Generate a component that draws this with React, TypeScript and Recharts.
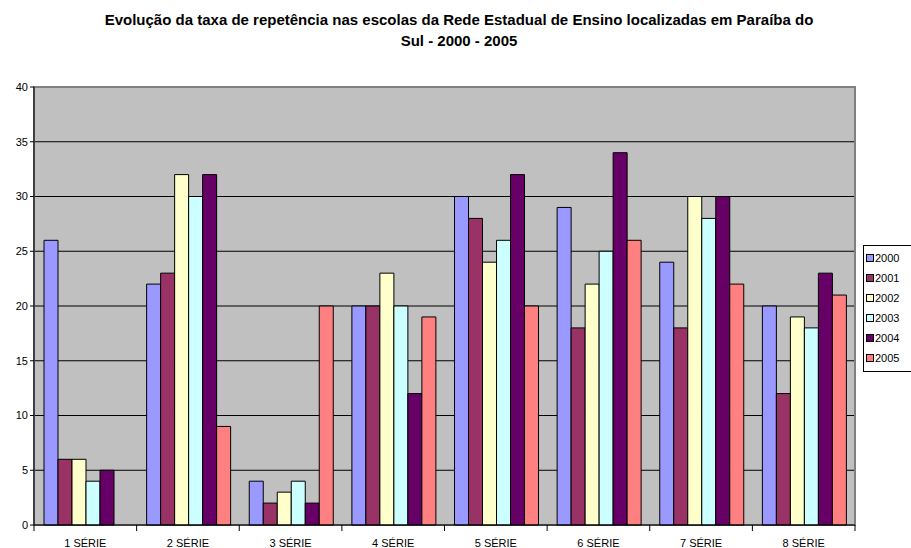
import {
  Bar,
  BarChart,
  CartesianGrid,
  ReferenceArea,
  XAxis,
  YAxis,
} from "recharts";

const series = ["1 SÉRIE", "2 SÉRIE", "3 SÉRIE", "4 SÉRIE", "5 SÉRIE", "6 SÉRIE", "7 SÉRIE", "8 SÉRIE"];
const years = ["2000", "2001", "2002", "2003", "2004", "2005"];
const colors = ["#9999FF", "#993366", "#FFFFCC", "#CCFFFF", "#660066", "#FF8080"];

const y2000 = [26, 22, 4, 20, 30, 29, 24, 20];
const y2001 = [6, 23, 2, 20, 28, 18, 18, 12];
const y2002 = [6, 32, 3, 23, 24, 22, 30, 19];
const y2003 = [4, 30, 4, 20, 26, 25, 28, 18];
const y2004 = [5, 32, 2, 12, 32, 34, 30, 23];
const y2005 = [0, 9, 20, 19, 20, 26, 22, 21];

const yTicks = [0, 5, 10, 15, 20, 25, 30, 35, 40];
const gridValues = [5, 10, 15, 20, 25, 30, 35];

const font = "'Liberation Sans', Arial, sans-serif";

const data = series.map((name, i) => ({
  name,
  "2000": y2000[i],
  "2001": y2001[i],
  "2002": y2002[i],
  "2003": y2003[i],
  "2004": y2004[i],
  "2005": y2005[i],
}));

function SerieTick(props: any) {
  const { x, y, payload, index, visibleTicksCount } = props;
  const off = payload.offset ?? 0;
  const last = index === visibleTicksCount - 1;
  return (
    <g>
      <line x1={x - off} x2={x - off} y1={y - 6} y2={y} stroke="#000" />
      {last && <line x1={x + off} x2={x + off} y1={y - 6} y2={y} stroke="#000" />}
      <text x={x} y={y + 16} textAnchor="middle" fontSize={11} fill="#000" fontFamily={font}>
        {payload.value}
      </text>
    </g>
  );
}

function LegendBox() {
  return (
    <div
      style={{
        position: "absolute",
        left: 863,
        top: 245,
        width: 60,
        border: "1px solid #000",
        background: "#fff",
        padding: "2px 4px 3px 2px",
        fontFamily: font,
        fontSize: 11,
        lineHeight: "20px",
      }}
    >
      {years.map((yr, i) => (
        <div key={yr} style={{ display: "flex", alignItems: "center", whiteSpace: "nowrap" }}>
          <span
            style={{
              display: "inline-block",
              width: 6,
              height: 6,
              border: "1px solid #000",
              background: colors[i],
              marginRight: 1,
            }}
          />
          {yr}
        </div>
      ))}
    </div>
  );
}

export default function App() {
  return (
    <div style={{ position: "absolute", left: 0, top: 0, width: 911, height: 548, background: "#fff", overflow: "hidden" }}>
      <div
        style={{
          position: "absolute",
          left: 0,
          top: 9,
          width: 918,
          textAlign: "center",
          fontFamily: font,
          fontWeight: "bold",
          fontSize: 15,
          lineHeight: "21px",
        }}
      >
        Evolução da taxa de repetência nas escolas da Rede Estadual de Ensino localizadas em Paraíba do
        <br />
        Sul - 2000 - 2005
      </div>
      <BarChart
        width={911}
        height={548}
        data={data}
        margin={{ top: 87, right: 56, bottom: 0, left: 0 }}
        barCategoryGap={10}
        barGap={0}
        style={{ position: "absolute", left: 0, top: 0 }}
      >
        <CartesianGrid fill="#C0C0C0" stroke="#000" vertical={false} horizontalValues={gridValues} />
        <ReferenceArea y1={0} y2={40} fill="none" stroke="#808080" strokeWidth={2} />
        <XAxis
          dataKey="name"
          height={23}
          interval={0}
          tickLine={false}
          tickSize={6}
          tickMargin={0}
          axisLine={{ stroke: "#000" }}
          tick={<SerieTick />}
        />
        <YAxis
          width={34}
          domain={[0, 40]}
          ticks={yTicks}
          interval={0}
          tickSize={4}
          tickMargin={2}
          axisLine={{ stroke: "#000" }}
          tickLine={{ stroke: "#000" }}
          tick={{ fontSize: 11, fill: "#000", fontFamily: font }}
        />
        {years.map((yr, i) => (
          <Bar key={yr} dataKey={yr} name={yr} fill={colors[i]} stroke="#000" strokeWidth={1} isAnimationActive={false} />
        ))}
      </BarChart>
      <LegendBox />
    </div>
  );
}
